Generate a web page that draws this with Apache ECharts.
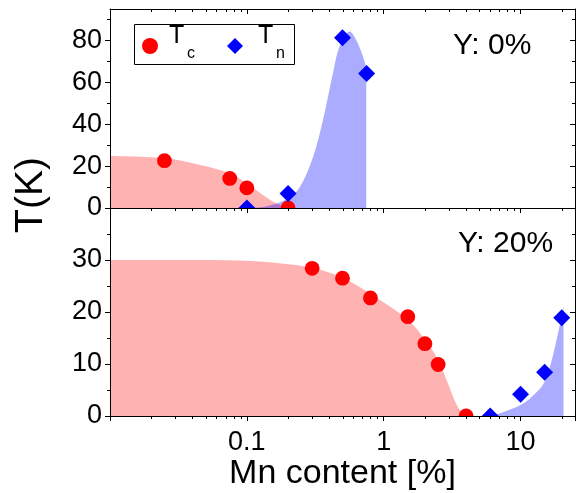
<!DOCTYPE html>
<html><head><meta charset="utf-8">
<script src="https://cdn.jsdelivr.net/npm/echarts@6/dist/echarts.min.js"></script>
<style>html,body{margin:0;padding:0;background:#fff}#c{width:579px;height:493px}</style>
</head><body><div id="c"></div>
<script>
// ---- axis ranges & tick labels ----
const xMin = 0.01, xMax = 25;
const xTickLabels = ['0.1', '1', '10'];
const topYMax = 95, botYMax = 40;
const topYMinor = [10, 30, 50, 70, 90];
const botYMinor = [5, 15, 25, 35];

// ---- Y: 0% panel ----
const tcX0 = [0.025, 0.075, 0.1, 0.2];
const tcY0 = [22.6, 14.1, 9.6, 0];
const tnX0 = [0.1, 0.2, 0.5, 0.75];
const tnY0 = [0, 6.9, 81.3, 64.2];
const tcFillX0 = [0.01, 0.0256, 0.0457, 0.0756, 0.1, 0.132, 0.165, 0.2];
const tcFillY0 = [24.8, 23.7, 20.5, 16.5, 11.7, 6.1, 2.1, 0];
const tnFillX0 = [0.1, 0.14, 0.2, 0.244, 0.305, 0.36, 0.426, 0.477, 0.564, 0.62, 0.7, 0.746];
const tnFillY0 = [0, 0.8, 4.5, 10, 24.5, 42, 64.5, 77.3, 84.2, 81, 73, 67];

// ---- Y: 20% panel ----
const tcX20 = [0.3, 0.5, 0.8, 1.5, 2, 2.5, 4];
const tcY20 = [28.4, 26.5, 22.7, 19.1, 13.9, 9.9, 0];
const tnX20 = [6, 10, 15, 20];
const tnY20 = [0, 4.2, 8.4, 18.9];
const tcFillX20 = [0.01, 0.046, 0.106, 0.185, 0.3, 0.5, 0.81, 1.5, 2, 2.5, 2.88, 3.47, 4];
const tcFillY20 = [30, 30, 29.8, 29.3, 28.5, 26.6, 23.4, 18.5, 14.7, 10.8, 6.9, 1.8, 0];
const tnFillX20 = [6, 7.35, 10, 12.1, 15, 17.9, 20.6];
const tnFillY20 = [0, 0.65, 2.1, 3.7, 6.6, 13.4, 21.1];

const FONT = '"Liberation Sans", Arial, sans-serif';
const zip = (xs, ys) => xs.map((x, i) => [x, ys[i]]);

const xMinorTicks = [];
[0.01, 0.1, 1, 10].forEach(d => {
  for (let k = 2; k <= 9; k++) { const v = +(k * d).toPrecision(3); if (v < xMax) xMinorTicks.push(v); }
});

const chart = echarts.init(document.getElementById('c'), null, {renderer: 'canvas'});

const black = {color: '#000', width: 1};
function xAx(grid, pos, labels) {
  return {
    type: 'log', logBase: 10, gridIndex: grid, position: pos, min: xMin, max: xMax, z: 10,
    axisLine: {show: true, onZero: false, lineStyle: black},
    axisTick: {show: true, inside: pos === 'top', length: 5, lineStyle: black},
    splitLine: {show: false}, minorTick: {show: false},
    axisLabel: labels ? {
      show: true, margin: 13, fontSize: 27, fontFamily: FONT, color: '#000',
      formatter: v => { const s = String(+(+v).toPrecision(3)); return xTickLabels.includes(s) ? s : ''; }
    } : {show: false},
    name: labels ? 'Mn content [%]' : '', nameLocation: 'middle', nameGap: 37,
    nameTextStyle: {fontSize: 34, fontFamily: FONT, color: '#000'}
  };
}
function yAx(grid, pos, max, interval, labels) {
  return {
    type: 'value', gridIndex: grid, position: pos, min: 0, max: max, interval: interval, z: 10,
    axisLine: {show: true, onZero: false, lineStyle: black},
    axisTick: {show: true, inside: pos === 'right', length: 5, lineStyle: black},
    splitLine: {show: false}, minorTick: {show: false},
    axisLabel: labels ? {show: true, margin: 8, fontSize: 27, fontFamily: FONT, color: '#000', showMaxLabel: false} : {show: false}
  };
}

function minorTicks(grid, yMinor) {
  const data = xMinorTicks.map(v => [0, v, 1]).concat(yMinor.map(v => [1, xMin, v]));
  return {
    type: 'custom', xAxisIndex: grid, yAxisIndex: grid, data: data, encode: {x: 1, y: 2},
    silent: true, z: 11, clip: false,
    renderItem(params, api) {
      const cs = params.coordSys;
      const p = api.coord([api.value(1), api.value(2)]);
      const st = {stroke: '#000', lineWidth: 1};
      if (api.value(0) === 0) {
        const x = Math.round(p[0]) + 0.5, b = cs.y + cs.height, t = cs.y;
        return {type: 'group', children: [
          {type: 'line', shape: {x1: x, y1: b, x2: x, y2: b + 3}, style: st},
          {type: 'line', shape: {x1: x, y1: t, x2: x, y2: t + 3}, style: st}
        ]};
      } else {
        const y = Math.round(p[1]) + 0.5, l = cs.x, r = cs.x + cs.width;
        return {type: 'group', children: [
          {type: 'line', shape: {x1: l - 3, y1: y, x2: l, y2: y}, style: st},
          {type: 'line', shape: {x1: r - 3, y1: y, x2: r, y2: y}, style: st}
        ]};
      }
    }
  };
}

function fill(grid, xs, ys, color) {
  return {type: 'line', xAxisIndex: grid, yAxisIndex: grid, data: zip(xs, ys), smooth: 0.35,
    symbol: 'none', showSymbol: false, lineStyle: {width: 0, opacity: 0}, areaStyle: {color: color, opacity: 1},
    silent: true, z: 1};
}
const RED_PT = '#ff0000', BLUE_PT = '#0000ff';
function pts(grid, name, xs, ys) {
  const tc = name === 'Tc';
  return {type: 'custom', name: name, xAxisIndex: grid, yAxisIndex: grid, data: zip(xs, ys),
    encode: {x: 0, y: 1}, clip: true, z: 5, silent: true,
    itemStyle: {color: tc ? RED_PT : BLUE_PT},
    renderItem(params, api) {
      const p = api.coord([api.value(0), api.value(1)]);
      if (tc) return {type: 'circle', shape: {cx: p[0], cy: p[1], r: 7.4}, style: {fill: RED_PT}};
      const h = 8.5;
      return {type: 'polygon', shape: {points: [[p[0], p[1] - h], [p[0] + h, p[1]], [p[0], p[1] + h], [p[0] - h, p[1]]]}, style: {fill: BLUE_PT}};
    }};
}

const RED = 'rgba(255,0,0,0.3)', BLUE = 'rgba(0,0,255,0.33)';
const txt = (x, y, text, size, extra) => Object.assign({type: 'text', x: x, y: y, z: 20,
  style: {text: text, fontSize: size, fontFamily: FONT, fill: '#000', align: 'left', verticalAlign: 'middle'}}, extra || {});

chart.setOption({
  animation: false,
  backgroundColor: '#fff',
  grid: [
    {left: 110, right: 4, top: 9, height: 199},
    {left: 110, right: 4, top: 208, height: 208}
  ],
  xAxis: [xAx(0, 'bottom', false), xAx(1, 'bottom', true), xAx(0, 'top', false), xAx(1, 'top', false)],
  yAxis: [yAx(0, 'left', topYMax, 20, true), yAx(1, 'left', botYMax, 10, true),
          yAx(0, 'right', topYMax, 20, false), yAx(1, 'right', botYMax, 10, false)],
  legend: {
    data: [{name: 'Tc', icon: 'circle', itemStyle: {color: RED_PT}}, {name: 'Tn', icon: 'diamond', itemStyle: {color: BLUE_PT}}],
    left: 142, top: 38, orient: 'horizontal', padding: 0,
    itemWidth: 16, itemHeight: 16, itemGap: 69, selectedMode: false,
    formatter: () => '', textStyle: {fontSize: 12}
  },
  graphic: [
    {type: 'rect', shape: {x: 134.5, y: 24.5, width: 160, height: 40}, style: {fill: 'none', stroke: '#000', lineWidth: 1}, z: 20},
    txt(169, 36, 'T', 25), txt(187, 54, 'c', 16),
    txt(258, 36, 'T', 25), txt(276, 54, 'n', 16),
    txt(453, 46, 'Y: 0%', 30),
    txt(458, 244, 'Y: 20%', 30),
    txt(31, 195, 'T(K)', 39, {rotation: Math.PI / 2, style: {text: 'T(K)', fontSize: 39, fontFamily: FONT, fill: '#000', align: 'center', verticalAlign: 'middle'}})
  ],
  series: [
    fill(0, tcFillX0, tcFillY0, RED),
    fill(0, tnFillX0, tnFillY0, BLUE),
    fill(1, tcFillX20, tcFillY20, RED),
    fill(1, tnFillX20, tnFillY20, BLUE),
    pts(0, 'Tc', tcX0, tcY0),
    pts(0, 'Tn', tnX0, tnY0),
    pts(1, 'Tc', tcX20, tcY20),
    pts(1, 'Tn', tnX20, tnY20),
    minorTicks(0, topYMinor),
    minorTicks(1, botYMinor)
  ]
});
</script>
</body></html>
